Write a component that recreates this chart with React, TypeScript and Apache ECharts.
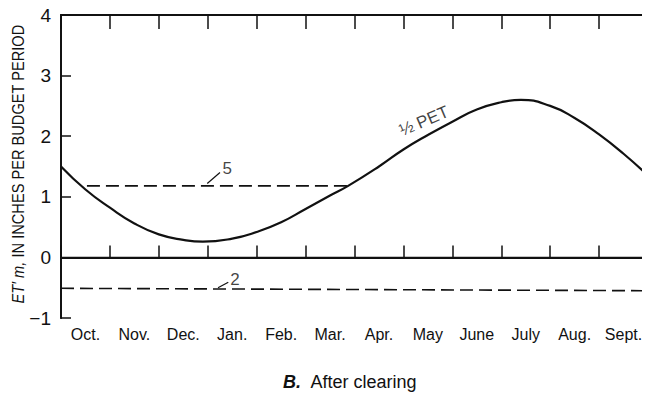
import React, { useEffect, useRef } from "react";
import * as echarts from "echarts";

// Month labels (categories between ticks)
const months = ["Oct.", "Nov.", "Dec.", "Jan.", "Feb.", "Mar.", "Apr.", "May", "June", "July", "Aug.", "Sept."];
const yTicks = [-1, 0, 1, 2, 3, 4];

// ½ PET curve: [month position (0 = start of Oct.), inches]
const halfPet: [number, number][] = [
  [0, 1.5], [0.5, 1.12], [1, 0.82], [1.5, 0.56], [2, 0.38], [2.5, 0.29], [2.9, 0.26],
  [3.5, 0.31], [4, 0.42], [4.5, 0.58], [5, 0.8], [5.5, 1.02], [5.87, 1.18], [6.5, 1.5],
  [7, 1.78], [7.5, 2.02], [8, 2.24], [8.5, 2.44], [9, 2.56], [9.4, 2.6], [10, 2.5],
  [10.5, 2.3], [11, 2.03], [11.5, 1.71], [12, 1.35],
];
// Dashed line 5
const line5: [number, number][] = [[0.53, 1.18], [5.87, 1.18]];
// Dashed line 2
const line2: [number, number][] = [[0, -0.51], [12, -0.55]];
// Zero line
const zeroLine: [number, number][] = [[0, 0], [12, 0]];
// Leaders and labels
const leader5: [number, number][] = [[2.99, 1.22], [3.25, 1.4]];
const leader2: [number, number][] = [[3.21, -0.5], [3.42, -0.41]];
const labels: { name: string; value: [number, number]; rotate: number; align: string }[] = [
  { name: "5", value: [3.3, 1.47], rotate: 0, align: "left" },
  { name: "2", value: [3.46, -0.36], rotate: 0, align: "left" },
  { name: "½ PET", value: [7.42, 2.25], rotate: 23, align: "center" },
];
const yName = "IN INCHES PER BUDGET PERIOD";
const yNameItalic = "ET\u2032 m,";
const caption = "After clearing";
const captionLetter = "B.";

const FONT = "'Liberation Sans', Arial, sans-serif";

export default function App() {
  const ref = useRef<HTMLDivElement>(null);
  useEffect(() => {
    if (!ref.current) return;
    const chart = echarts.init(ref.current, undefined, { renderer: "svg" });
    const black = "#111";
    chart.setOption({
      animation: false,
      backgroundColor: "#fff",
      grid: { left: 61, right: 2, top: 15, bottom: 77, containLabel: false },
      xAxis: [
        {
          type: "value", min: 0, max: 12, interval: 1, position: "bottom",
          axisLine: { show: true, lineStyle: { color: black, width: 1.8 } },
          axisTick: { show: true, inside: true, length: 12, lineStyle: { color: black, width: 1.5 } },
          axisLabel: { show: false }, splitLine: { show: false },
        },
        {
          type: "category", data: months, position: "bottom", boundaryGap: true,
          axisLine: { show: false }, axisTick: { show: false }, splitLine: { show: false },
          axisLabel: { color: black, fontSize: 16, fontFamily: FONT, margin: 8, interval: 0 },
        },
        {
          type: "value", min: 0, max: 12, interval: 1, position: "top",
          axisLine: { show: true, lineStyle: { color: black, width: 1.8 } },
          axisTick: { show: true, inside: true, length: 14, lineStyle: { color: black, width: 1.5 } },
          axisLabel: { show: false }, splitLine: { show: false },
        },
      ],
      yAxis: [
        {
          type: "value", min: yTicks[0], max: yTicks[yTicks.length - 1], interval: 1,
          axisLine: { show: true, lineStyle: { color: black, width: 1.8 } },
          axisTick: { show: true, inside: true, length: 10, lineStyle: { color: black, width: 1.5 } },
          axisLabel: {
            color: black, fontSize: 19, fontFamily: FONT, margin: 10,
            formatter: (v: number) => (v < 0 ? "\u2212" + Math.abs(v) : String(v)),
          },
          splitLine: { show: false },
        },
        {
          type: "value", position: "right", min: -1, max: 4, interval: 1,
          axisLine: { show: true, lineStyle: { color: black, width: 1.8 } },
          axisTick: { show: false }, axisLabel: { show: false }, splitLine: { show: false },
        },
      ],
      series: [
        {
          type: "line", data: halfPet, smooth: 0.5, showSymbol: false,
          lineStyle: { color: black, width: 2.2 },
        },
        {
          type: "line", data: line5, showSymbol: false,
          lineStyle: { color: black, width: 1.6, type: [13, 6] },
        },
        {
          type: "line", data: line2, showSymbol: false,
          lineStyle: { color: black, width: 1.6, type: [13, 6] },
        },
        {
          type: "line", data: zeroLine, showSymbol: false,
          lineStyle: { color: black, width: 1.5 },
        },
        { type: "line", data: leader5, showSymbol: false, lineStyle: { color: black, width: 1.2 } },
        { type: "line", data: leader2, showSymbol: false, lineStyle: { color: black, width: 1.2 } },
        {
          type: "scatter", symbolSize: 0,
          data: labels.map((l) => ({
            name: l.name, value: l.value,
            label: {
              show: true, position: "inside", formatter: l.name, rotate: l.rotate,
              align: l.align, verticalAlign: "middle",
              color: black, fontSize: 17, fontFamily: FONT,
            },
          })),
        },
      ],
      graphic: [
        {
          type: "text", x: 18, y: 164, rotation: Math.PI / 2, scaleX: 0.86,
          style: {
            text: "{i|" + yNameItalic + "} " + yName, align: "center", verticalAlign: "middle",
            fontSize: 17, fontFamily: FONT, fill: black,
            rich: { i: { fontStyle: "italic", fontSize: 17, fontFamily: FONT, fill: black } },
          },
        },
        {
          type: "text", x: 350, y: 382,
          style: {
            text: "{b|" + captionLetter + "}  " + caption, align: "center", verticalAlign: "middle",
            fontSize: 18, fontFamily: FONT, fill: black,
            rich: { b: { fontStyle: "italic", fontWeight: "bold", fontSize: 18, fontFamily: FONT, fill: black } },
          },
        },
      ],
    });
    return () => chart.dispose();
  }, []);
  return <div ref={ref} style={{ width: 650, height: 395, marginLeft: -8, marginTop: -8 }} />;
}
